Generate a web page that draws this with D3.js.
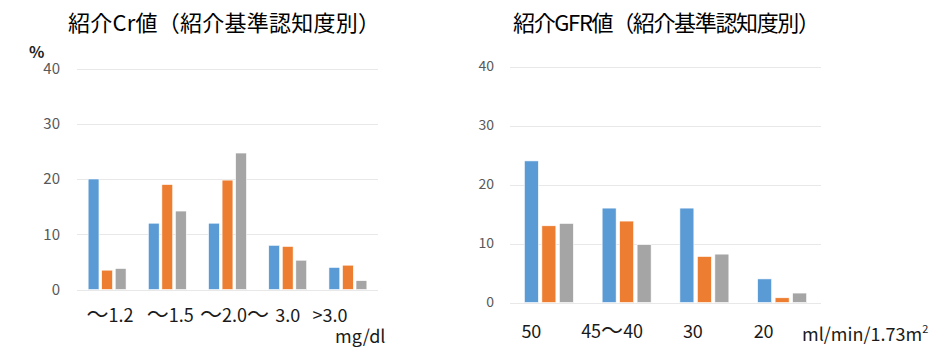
<!DOCTYPE html>
<html>
<head>
<meta charset="utf-8">
<script src="https://cdn.jsdelivr.net/npm/d3@7"></script>
<style>
  html, body { margin: 0; padding: 0; background: #ffffff; }
  svg { display: block; }
  text { font-family: "Noto Sans CJK JP", "Noto Sans", sans-serif; }
</style>
</head>
<body>
<svg id="chart" width="950" height="357"></svg>
<script>
// ---- Data ----
const crTitle = "紹介Cr値（紹介基準認知度別）";
const crCategories = ["～1.2", "～1.5", "～2.0～", "3.0", ">3.0"];
const crSeriesA = [20, 12, 12, 8, 4];
const crSeriesB = [3.5, 19, 19.8, 7.8, 4.4];
const crSeriesC = [3.8, 14.2, 24.7, 5.3, 1.6];
const crUnit = "mg/dl";

const gfrTitle = "紹介GFR値（紹介基準認知度別）";
const gfrCategories = ["50", "45～40", "30", "20"];
const gfrSeriesA = [24, 16, 16, 4];
const gfrSeriesB = [13, 13.8, 7.8, 0.8];
const gfrSeriesC = [13.4, 9.8, 8.2, 1.6];
const gfrUnit = "ml/min/1.73m";

const yTicks = [0, 10, 20, 30, 40];
const seriesColors = ["#5B9BD5", "#ED7D31", "#A5A5A5"];

const svg = d3.select("#chart");

function writeLabel(sel, s, size, tildeSize) {
  sel.attr("font-size", size);
  s.split(/(～)/).filter(p => p.length).forEach(p => {
    const t = sel.append("tspan").text(p);
    if (p === "～") t.attr("font-size", tildeSize);
  });
}

function drawPanel(cfg) {
  const g = svg.append("g");
  const x = d3.scaleBand().domain(cfg.categories).range([cfg.x0, cfg.x1])
    .paddingInner(0.37).paddingOuter(0.185);
  const xs = d3.scaleBand().domain([0, 1, 2]).range([0, x.bandwidth()]).paddingInner(0.2);
  const y = d3.scaleLinear().domain([0, 40]).range([cfg.y0, cfg.y1]);

  // gridlines
  g.append("g").selectAll("line").data(yTicks).join("line")
    .attr("x1", cfg.x0).attr("x2", cfg.x1)
    .attr("y1", d => Math.round(y(d)) + 0.5).attr("y2", d => Math.round(y(d)) + 0.5)
    .attr("stroke", "#E8E8E8").attr("stroke-width", 1.2);

  // y tick labels
  g.append("g").selectAll("text").data(yTicks).join("text")
    .attr("x", cfg.tickX).attr("y", d => y(d))
    .attr("dy", "0.35em").attr("text-anchor", "end")
    .attr("font-size", cfg.tickSize).attr("fill", "#595959")
    .text(d => d);

  // bars
  const series = cfg.series;
  const grp = g.append("g").selectAll("g").data(cfg.categories).join("g")
    .attr("transform", d => `translate(${x(d)},0)`);
  grp.selectAll("rect").data((c, i) => series.map((s, k) => ({ k, v: s[i] }))).join("rect")
    .attr("x", d => xs(d.k)).attr("width", xs.bandwidth())
    .attr("y", d => y(d.v)).attr("height", d => y(0) - y(d.v))
    .attr("fill", d => seriesColors[d.k])
    .attr("stroke", "#ffffff").attr("stroke-width", 0.6);

  // x labels
  g.append("g").selectAll("text").data(cfg.categories).join("text")
    .attr("x", (d, i) => cfg.labelX(d, i, x, xs))
    .attr("y", cfg.labelY).attr("dy", "0.35em")
    .attr("text-anchor", "middle")
    .attr("fill", "#1a1a1a")
    .each(function (d) { writeLabel(d3.select(this), d, 18, 22); });

  // title
  g.append("text").attr("x", cfg.titleX).attr("y", cfg.titleY).attr("dy", "0.35em")
    .attr("font-size", cfg.titleSize).attr("fill", "#000")
    .attr("textLength", cfg.titleLen).attr("lengthAdjust", "spacing")
    .text(cfg.title);

  return { g, x, xs, y };
}

// left panel
const crLabelDx = [3, 3, 7, 0, -18];
const left = drawPanel({
  categories: crCategories,
  series: [crSeriesA, crSeriesB, crSeriesC],
  x0: 77, x1: 378, y0: 289.5, y1: 68.5,
  tickX: 60, tickSize: 15,
  labelY: 316,
  labelX: (d, i, x) => x(d) + x.bandwidth() / 2 + crLabelDx[i],
  title: crTitle, titleX: 68, titleY: 23, titleSize: 22, titleLen: 312
});
left.g.append("text").attr("x", 29).attr("y", 52).attr("dy", "0.35em")
  .attr("font-size", 16).attr("font-weight", "bold").attr("fill", "#222").text("%");
left.g.append("text").attr("x", 335).attr("y", 337).attr("dy", "0.35em")
  .attr("font-size", 18).attr("fill", "#1a1a1a").text(crUnit);

// right panel
const right = drawPanel({
  categories: gfrCategories,
  series: [gfrSeriesA, gfrSeriesB, gfrSeriesC],
  x0: 510, x1: 821, y0: 302.5, y1: 66.5,
  tickX: 494, tickSize: 14,
  labelY: 332,
  labelX: (d, i, x, xs) => x(d) + xs(0) + xs.bandwidth() / 2 + [0, 3, 6, -1][i],
  title: gfrTitle, titleX: 513, titleY: 23, titleSize: 22, titleLen: 307
});
const unit = right.g.append("text").attr("x", 802).attr("y", 335).attr("dy", "0.35em")
  .attr("font-size", 18).attr("fill", "#1a1a1a").text(gfrUnit);
unit.append("tspan").attr("font-size", 11).attr("dy", "-0.8em").text("2");
</script>
</body>
</html>
